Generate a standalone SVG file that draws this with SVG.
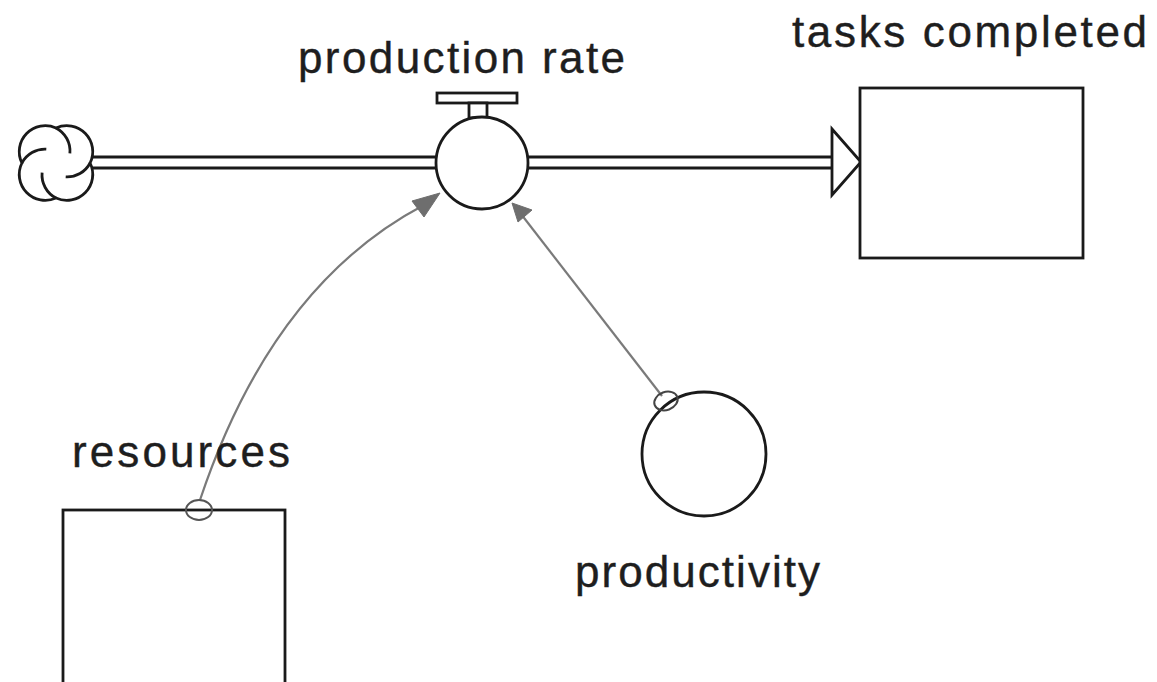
<svg xmlns="http://www.w3.org/2000/svg" width="1157" height="682" viewBox="0 0 1157 682">
<style>
.ln{fill:none;stroke:#1a1a1a;stroke-width:2.8}
.box{fill:#fff;stroke:#1a1a1a;stroke-width:2.8}
.lbl{font-family:"Liberation Sans",Arial,sans-serif;font-size:44px;fill:#1e1e1e;stroke:#1e1e1e;stroke-width:0.4}
.cn{fill:none;stroke:#7a7a7a;stroke-width:2.2}
.hd{fill:#6e6e6e;stroke:#6e6e6e;stroke-width:1}
</style>
<rect width="1157" height="682" fill="#fff"/>
<g id="connectors">
  <g id="flow-pipe">
    <line class="ln" x1="92" y1="157" x2="437" y2="157"/>
    <line class="ln" x1="92" y1="168" x2="437" y2="168"/>
    <line class="ln" x1="528" y1="157" x2="832" y2="157"/>
    <line class="ln" x1="528" y1="168" x2="832" y2="168"/>
    <polygon class="box" points="832,129 861,162 832,195"/>
  </g>
  <g id="link-resources">
    <path class="cn" d="M200,500 Q272,285 424,205"/>
    <polygon class="hd" points="440,193 412,201 424,217"/>
  </g>
  <g id="link-productivity">
    <line class="cn" x1="662" y1="396" x2="521" y2="214"/>
    <polygon class="hd" points="512,203 532,210 518,222"/>
  </g>
</g>
<g id="cloud">
  <path class="box" d="M56,127.9 A26,26 0 0 1 90.1,163 A26,26 0 0 1 56,198.1 A26,26 0 0 1 21.9,163 A26,26 0 0 1 56,127.9 Z"/>
  <path class="ln" d="M56,127.9 A26,26 0 0 1 69.9,153.3"/>
  <path class="ln" d="M90.1,163 A26,26 0 0 1 65.7,176.9"/>
  <path class="ln" d="M56,198.1 A26,26 0 0 1 42.1,172.7"/>
  <path class="ln" d="M21.9,163 A26,26 0 0 1 46.3,149.1"/>
</g>
<g id="production-rate">
  <rect class="box" x="437" y="93" width="80" height="10"/>
  <rect class="box" x="469" y="103" width="18" height="15"/>
  <circle class="box" cx="482" cy="163" r="46"/>
  <text class="lbl" x="298" y="73" textLength="327" lengthAdjust="spacing">production rate</text>
</g>
<g id="tasks-completed">
  <rect class="box" x="860" y="88" width="223" height="170"/>
  <text class="lbl" x="792" y="47" textLength="355" lengthAdjust="spacing">tasks completed</text>
</g>
<g id="resources">
  <rect class="box" x="63" y="510" width="222" height="190"/>
  <ellipse cx="199" cy="510" rx="13" ry="10" fill="none" stroke="#555" stroke-width="2"/>
  <text class="lbl" x="72" y="467" textLength="218" lengthAdjust="spacing">resources</text>
</g>
<g id="productivity">
  <circle class="box" cx="704" cy="454" r="62"/>
  <ellipse cx="666" cy="401" rx="12" ry="9" transform="rotate(-20 666 401)" fill="none" stroke="#444" stroke-width="2"/>
  <text class="lbl" x="575" y="587" textLength="245" lengthAdjust="spacing">productivity</text>
</g>
</svg>
